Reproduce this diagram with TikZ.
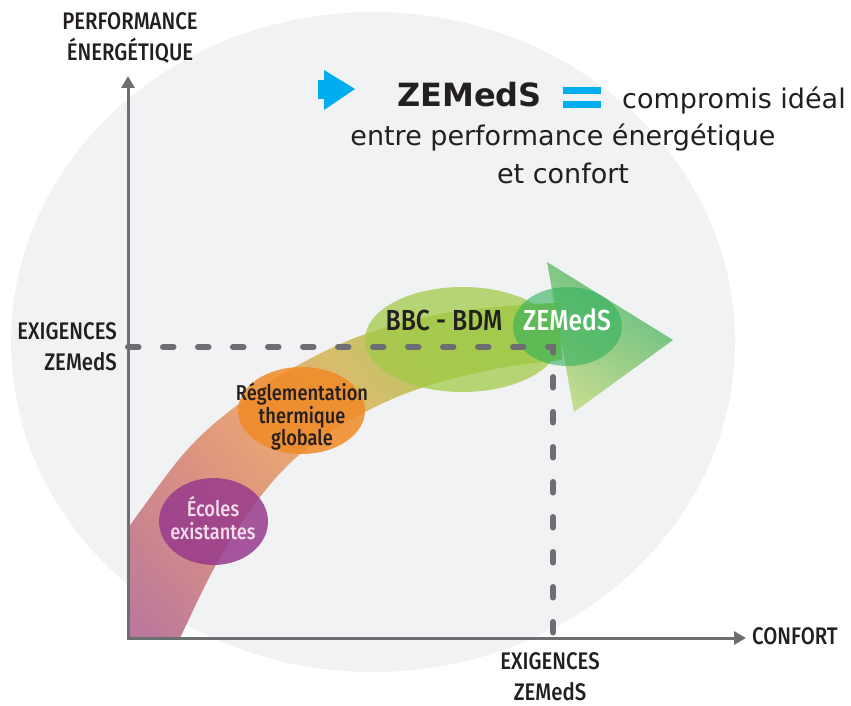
\documentclass[tikz,border=0pt]{standalone}
\usepackage{fontspec}
\setmainfont{DejaVu Sans}
\newfontfamily\labelfont[FakeStretch=0.85]{Fira Sans Medium}
\usetikzlibrary{arrows.meta,shapes.geometric}

\definecolor{bgdisc}{HTML}{F1F2F4}
\definecolor{axisgray}{HTML}{6D6E71}
\definecolor{inkdark}{HTML}{231F20}
\definecolor{zcyan}{HTML}{00AEEF}
\definecolor{bpurple}{HTML}{B7779E}
\definecolor{bsalmon}{HTML}{DB9182}
\definecolor{borange}{HTML}{E9A673}
\definecolor{byellow}{HTML}{D7BD6C}
\definecolor{bgreen}{HTML}{A8CB5C}
\definecolor{ecolecol}{HTML}{983A8C}
\definecolor{ecoletxt}{HTML}{F3DDEA}
\definecolor{rtcol}{HTML}{F08A26}
\definecolor{bbccol}{HTML}{A3CA48}
\definecolor{zemcol}{HTML}{2FB05A}
\definecolor{headtop}{HTML}{46B46B}
\definecolor{headbot}{HTML}{BAD77E}

\pgfdeclarehorizontalshading{bandshade}{100bp}{color(0bp)=(bpurple); color(25bp)=(bpurple); color(42bp)=(bsalmon); color(52bp)=(borange); color(62bp)=(byellow); color(75bp)=(bgreen); color(100bp)=(bgreen)}

\tikzset{
  axisline/.style={draw=axisgray, line width=3pt, -{Triangle[length=12pt,width=13pt]}},
  guide/.style={draw=axisgray, line width=6pt, line cap=round, dash pattern=on 10.5pt off 24.5pt},
  blob/.style={ellipse, inner sep=0pt, draw=none},
  axislab/.style={font=\labelfont\fontsize{24}{31}\selectfont, text=inkdark, inner sep=0pt},
  stagelab/.style={font=\labelfont\fontsize{21.5}{22.5}\selectfont, inner sep=0pt, align=center},
  headtxt/.style={font=\fontsize{27}{38}\selectfont, text=inkdark, inner sep=0pt},
  headbold/.style={font=\bfseries\fontsize{32}{38}\selectfont, text=inkdark, inner sep=0pt}
}

\begin{document}
\begin{tikzpicture}[x=1pt, y=-1pt]
\useasboundingbox (0,0) rectangle (851,706);
% background disc
\fill[bgdisc] (373,342) ellipse [x radius=362pt, y radius=330pt];

\coordinate (O) at (128,638);
\coordinate (ytip) at (128,76);
\coordinate (xtip) at (746,638);
\coordinate (req) at (553,347);

% curved band
\begin{scope}
  \clip (O) rectangle (851,0);
  \shade[shading=bandshade, shading angle=40]
    plot[smooth, tension=0.6] coordinates {(40,660) (90,578) (130,525) (187,450) (240,403) (293,368) (360,336) (440,314) (520,305) (560,303)}
    -- plot[smooth, tension=0.6] coordinates {(562,360) (500,368) (427,386) (365,412) (305,450) (260,497) (217,563) (180,638) (160,680)} -- cycle;
\end{scope}
% arrow head
\shade[top color=headtop, bottom color=headbot, shading angle=-35, opacity=0.85]
  (547,262) -- (673,340) -- (574,412) -- cycle;

% stages
\node[blob, fill=ecolecol, fill opacity=0.85, minimum width=109pt, minimum height=87pt] (ecoles) at (213.5,521.5) {};
\node[stagelab, text=ecoletxt] (ecolestxt) at (213,518) {Écoles\\existantes};
\node[blob, fill=rtcol, fill opacity=0.85, minimum width=127pt, minimum height=87pt] (rt) at (301.5,410.5) {};
\node[stagelab, text=inkdark] (rttxt) at (302,417) {Réglementation\\thermique\\globale};
\node[blob, fill=bbccol, fill opacity=0.75, minimum width=195pt, minimum height=105pt] (bbc) at (462.5,339.5) {};
\node[blob, fill=zemcol, fill opacity=0.6, minimum width=109pt, minimum height=79pt] (zem) at (567.5,326.5) {};
\node[stagelab, text=inkdark, font=\labelfont\fontsize{29}{30}\selectfont] (bbctxt) at (444,320) {BBC - BDM};
\node[stagelab, text=white, font=\labelfont\fontsize{29}{30}\selectfont] (zemtxt) at (567,320) {ZEMedS};

% requirement guides
\draw[guide] (O |- req) -- (req) -- (req |- O);

% axes
\draw[axisline] (O) -- (ytip);
\draw[axisline] ([xshift=-1.5pt]O) -- (xtip);

% axis labels
\node[axislab, align=center] (perf) at (130,38) {PERFORMANCE\\ÉNERGÉTIQUE};
\node[axislab, anchor=west] (conf) at (752,636) {CONFORT};
\node[axislab, align=right, anchor=east] (reqy) at (117,347) {EXIGENCES\\ZEMedS};
\node[axislab, align=center] (reqx) at (550,677) {EXIGENCES\\ZEMedS};

% heading
\fill[zcyan] (318,80) rectangle (326,99);
\fill[zcyan] (324,70) -- (355,89) -- (324,110) -- cycle;
\node[headbold, anchor=base west] (zhead) at (397,107) {ZEMedS};
\fill[zcyan] (563,87) rectangle (601,94);
\fill[zcyan] (563,101) rectangle (601,108);
\node[headtxt, anchor=base west] (tag) at (622,109) {compromis idéal};
\node[headtxt, anchor=base] (tag2) at (563,146) {entre performance énergétique};
\node[headtxt, anchor=base] (tag3) at (563,183) {et confort};
\end{tikzpicture}
\end{document}
